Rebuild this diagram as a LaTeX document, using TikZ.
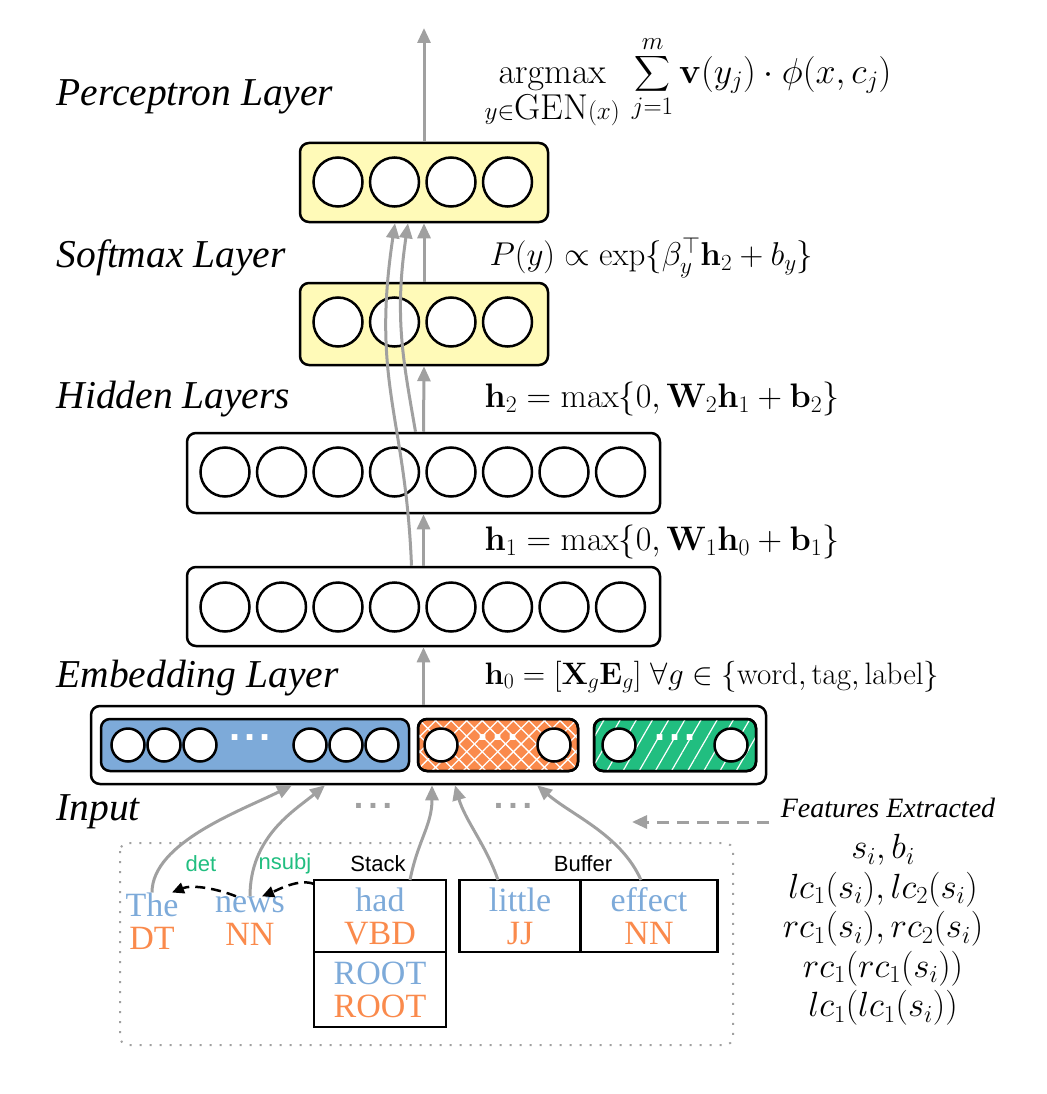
\RequirePackage{fix-cm}
\documentclass[tikz,border=0pt]{standalone}
\usepackage{amsmath}
\usepackage[no-math]{fontspec}
\newfontfamily\tnr{Liberation Serif}
\newfontfamily\hel{Liberation Sans}
\usetikzlibrary{arrows.meta,patterns.meta}
\definecolor{wblue}{RGB}{125,170,217}
\definecolor{worange}{RGB}{250,138,76}
\definecolor{wgreen}{RGB}{33,190,128}
\definecolor{lyellow}{RGB}{255,250,184}
\definecolor{agrey}{RGB}{160,160,160}

\begin{document}
\begin{tikzpicture}[x=1pt, y=-1pt,
    layer/.style={draw, line width=2.5pt, rounded corners=9pt, inner sep=0pt},
    unit/.style={draw, circle, fill=white, line width=2.5pt, minimum size=49pt, inner sep=0pt},
    emunit/.style={unit, minimum size=33pt},
    tagfill/.style={fill=worange,
        postaction={pattern={Lines[angle=45,distance=11pt,line width=1.3pt]}, pattern color=white},
        postaction={pattern={Lines[angle=-45,distance=11pt,line width=1.3pt]}, pattern color=white},
        postaction={draw, line width=2.5pt}},
    labelfill/.style={fill=wgreen,
        postaction={pattern={Lines[angle=60,distance=14pt,line width=1.2pt]}, pattern color=white},
        postaction={draw, line width=2.5pt}},
    flow/.style={agrey, line width=3pt, -{Triangle[length=15pt,width=13pt]}},
    dep/.style={black, line width=2.5pt, dash pattern=on 10pt off 6pt, -{Triangle[length=12pt,width=11pt]}},
    lbl/.style={font=\fontsize{39.5}{44}\selectfont\tnr\itshape, anchor=west},
    eqn/.style={font=\fontsize{34}{40}\selectfont, anchor=west},
    word/.style={font=\fontsize{34}{33}\selectfont\tnr, align=center, inner sep=0pt},
    cell/.style={word, draw, line width=2.5pt, outer sep=0pt, minimum height=72pt},
    arclbl/.style={font=\fontsize{22}{26}\selectfont\hel, text=wgreen},
    dots/.style={font=\fontsize{40}{40}\selectfont\hel\bfseries, inner sep=0pt}
]
    \useasboundingbox (0,0) rectangle (1046,1094);

    \node[layer, fill=lyellow, minimum width=248pt, minimum height=79pt] (perc) at (424,182.5) {};
    \node[layer, fill=lyellow, minimum width=248pt, minimum height=82pt] (soft) at (424,324) {};
    \node[layer, minimum width=473pt, minimum height=80pt] (hid2) at (423.5,473) {};
    \node[layer, minimum width=473pt, minimum height=79pt] (hid1) at (423.5,606.5) {};
    \node[layer, minimum width=675pt, minimum height=78pt] (emb) at (428.5,745) {};
    \node[layer, fill=wblue, minimum width=308pt, minimum height=52pt] (wordvec) at (255,745) {};
    \node[layer, tagfill, minimum width=160pt, minimum height=52pt] (tagvec) at (498,745) {};
    \node[layer, labelfill, minimum width=162pt, minimum height=52pt] (labelvec) at (675,745) {};

    \foreach \i in {0,...,3}{ \node[unit] (p\i) at (338+56.5*\i, 182) {}; }
    \foreach \i in {0,...,3}{ \node[unit] (s\i) at (338+56.5*\i, 322) {}; }
    \foreach \i in {0,...,7}{ \node[unit] (u\i) at (225+56.5*\i, 472) {}; }
    \foreach \i in {0,...,7}{ \node[unit] (v\i) at (225+56.5*\i, 607) {}; }
    \foreach \x [count=\i] in {128, 164, 200, 310, 346, 382}{ \node[emunit] (w\i) at (\x, 745) {}; }
    \foreach \x [count=\i] in {441, 554}{ \node[emunit] (t\i) at (\x, 745) {}; }
    \foreach \x [count=\i] in {619, 731}{ \node[emunit] (l\i) at (\x, 745) {}; }
    \node[dots, text=white] (wdots) at (250, 738) {.\hspace{4pt}.\hspace{4pt}.};
    \node[dots, text=white] (tdots) at (498, 738) {.\hspace{4pt}.\hspace{4pt}.};
    \node[dots, text=white] (ldots) at (675, 738) {.\hspace{4pt}.\hspace{4pt}.};

    \node[lbl] (lperc) at (53, 97) {Perceptron Layer};
    \node[lbl] (lsoft) at (53, 258) {Softmax Layer};
    \node[lbl] (lhid) at (53, 399) {Hidden Layers};
    \node[lbl] (lemb) at (53, 678) {Embedding Layer};
    \node[lbl] (linput) at (53, 812) {Input};

    \node[eqn, anchor=center, font=\fontsize{36}{42}\selectfont] (eperc) at (688, 82)
        {$\displaystyle\operatorname*{argmax}_{y\in\mbox{GEN}(x)}\,\sum_{j=1}^{m}\mathbf{v}(y_j)\cdot\phi(x,c_j)$};
    \node[eqn, font=\fontsize{33}{39}\selectfont] (esoft) at (486, 258) {$P(y)\propto\exp\{\beta_y^\top\mathbf{h}_2+b_y\}$};
    \node[eqn] (ehid2) at (481, 399) {$\mathbf{h}_2=\max\{0,\mathbf{W}_2\mathbf{h}_1+\mathbf{b}_2\}$};
    \node[eqn] (ehid1) at (481, 542) {$\mathbf{h}_1=\max\{0,\mathbf{W}_1\mathbf{h}_0+\mathbf{b}_1\}$};
    \node[eqn, font=\fontsize{31}{37}\selectfont] (eemb) at (481, 677) {$\mathbf{h}_0=[\mathbf{X}_g\mathbf{E}_g]~\forall g\in\{\text{word},\text{tag},\text{label}\}$};

    \coordinate (top) at (424, 28);
    \draw[flow] (perc.north) -- (top);
    \draw[flow] (soft.north) -- (perc.south);
    \draw[flow] (hid2.north) -- (soft.south);
    \draw[flow] (hid1.north) -- (hid2.south);
    \draw[flow] (emb.north -| hid1.south) -- (hid1.south);
    \draw[flow] ([xshift=-12pt]hid1.north) .. controls +(-6,-150) and +(-24,160) .. ([xshift=-29pt]perc.south);
    \draw[flow] ([xshift=-8pt]hid2.north) .. controls +(-12,-70) and +(-14,95) .. ([xshift=-16pt]perc.south);

    \draw[agrey, line width=2pt, dash pattern=on 2pt off 8pt, rounded corners=8pt] (120,843) rectangle (733,1045);

    \node[word] (the) at (152, 921) {\textcolor{wblue}{The}\\\textcolor{worange}{DT}};
    \node[word] (news) at (250, 921) {\textcolor{wblue}{news}\\\textcolor{worange}{NN}};
    \node[cell, minimum width=132pt] (had) at (380, 916) {\textcolor{wblue}{had}\\\textcolor{worange}{VBD}};
    \node[cell, minimum width=132pt, minimum height=75pt, anchor=north] (root) at (had.south) {\textcolor{wblue}{ROOT}\\\textcolor{worange}{ROOT}};
    \node[cell, minimum width=121pt] (little) at (520, 916) {\textcolor{wblue}{little}\\\textcolor{worange}{JJ}};
    \node[cell, minimum width=137pt, anchor=west] (effect) at (little.east) {\textcolor{wblue}{effect}\\\textcolor{worange}{NN}};

    \node[font=\fontsize{22}{26}\selectfont\hel] (stack) at (378, 864) {Stack};
    \node[font=\fontsize{22}{26}\selectfont\hel] (buffer) at (583, 864) {Buffer};
    \node[arclbl] (det) at (201, 864) {det};
    \node[arclbl] (nsubj) at (285, 864) {nsubj};

    \draw[dep] ([xshift=-14pt]news.north) .. controls +(-20,-8) and +(20,-8) .. ([xshift=20pt]the.north);
    \draw[dep] ([yshift=-4pt]had.north west) .. controls +(-15,-6) and +(15,-6) .. ([xshift=12pt]news.north);

    \draw[flow] (the.north) .. controls +(0,-50) and +(-50,25) .. ([xshift=-136.5pt]emb.south);
    \draw[flow] (news.north) .. controls +(0,-60) and +(-30,25) .. ([xshift=-103.5pt]emb.south);
    \draw[flow] ([xshift=-36pt]had.north east) .. controls +(8,-40) and +(0,40) .. ([xshift=3.5pt]emb.south);
    \draw[flow] ([xshift=-22pt]little.north) .. controls +(-12,-35) and +(10,35) .. ([xshift=26.5pt]emb.south);
    \draw[flow] ([xshift=-8pt]effect.north) .. controls +(-20,-45) and +(35,30) .. ([xshift=108.5pt]emb.south);

    \node[dots, text=agrey, font=\fontsize{34}{34}\selectfont\hel\bfseries] (gap1) at (373, 806) {.\hspace{5pt}.\hspace{5pt}.};
    \node[dots, text=agrey, font=\fontsize{34}{34}\selectfont\hel\bfseries] (gap2) at (513, 806) {.\hspace{5pt}.\hspace{5pt}.};

    \node[font=\fontsize{28}{32}\selectfont\tnr\itshape] (fx) at (888, 808) {Features Extracted};
    \node[font=\fontsize{35}{39.5}\selectfont, align=center, anchor=north] (flist) at (883, 831)
        {$s_i,b_i$\\$lc_1(s_i),lc_2(s_i)$\\$rc_1(s_i),rc_2(s_i)$\\$rc_1(rc_1(s_i))$\\$lc_1(lc_1(s_i))$};
    \coordinate (fend) at (632, 822);
    \draw[flow, dash pattern=on 12pt off 8pt] ([xshift=-8pt,yshift=-14pt]fx.west) -- (fend);
\end{tikzpicture}
\end{document}
